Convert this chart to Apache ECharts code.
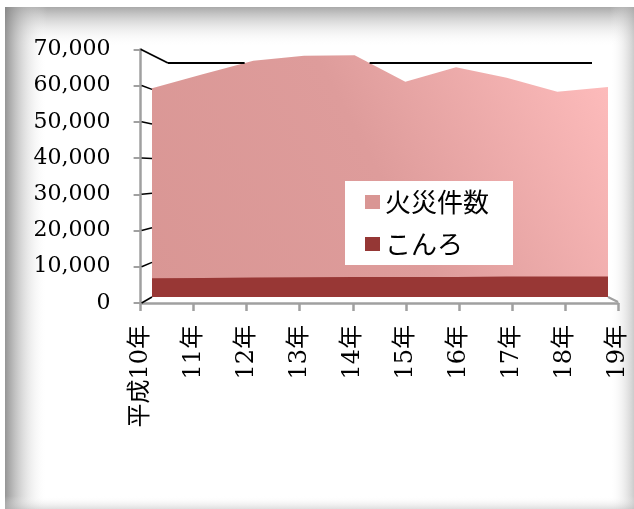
<!DOCTYPE html>
<html>
<head>
<meta charset="utf-8">
<script src="https://cdn.jsdelivr.net/npm/echarts@6/dist/echarts.min.js"></script>
<style>
html,body{margin:0;padding:0;background:#fff;}
#main{width:634px;height:509px;}
</style>
</head>
<body>
<div id="main"></div>
<script>
var years = ['平成10年','11年','12年','13年','14年','15年','16年','17年','18年','19年'];
var fires = [60300, 64400, 68300, 69700, 69900, 62200, 66400, 63400, 59300, 60700];
var konro = [5400, 5500, 5600, 5700, 5800, 5800, 5800, 5900, 5900, 5900];
var yTicks = [0, 10000, 20000, 30000, 40000, 50000, 60000, 70000];

var myChart = echarts.init(document.getElementById('main'));

function comma(v){
    return String(v).replace(/\B(?=(\d{3})+(?!\d))/g, ',');
}

// 背景のぼかし枠
var frame = [
    {type:'rect', z:-10, shape:{x:5,y:7,width:629,height:40},
        style:{fill:new echarts.graphic.LinearGradient(0,0,0,1,[{offset:0,color:'rgba(140,140,140,0.75)'},{offset:1,color:'rgba(255,255,255,0)'}])}},
    {type:'rect', z:-10, shape:{x:5,y:7,width:42,height:502},
        style:{fill:new echarts.graphic.LinearGradient(0,0,1,0,[{offset:0,color:'rgba(130,130,130,0.85)'},{offset:1,color:'rgba(255,255,255,0)'}])}},
    {type:'rect', z:-10, shape:{x:610,y:7,width:24,height:502},
        style:{fill:new echarts.graphic.LinearGradient(1,0,0,0,[{offset:0,color:'rgba(170,170,170,0.6)'},{offset:1,color:'rgba(255,255,255,0)'}])}},
    {type:'rect', z:-10, shape:{x:5,y:496,width:629,height:13},
        style:{fill:new echarts.graphic.LinearGradient(0,1,0,0,[{offset:0,color:'rgba(190,190,190,0.5)'},{offset:1,color:'rgba(255,255,255,0)'}])}}
];

var option = {
    backgroundColor:'#fff',
    animation:false,
    legend:{
        orient:'vertical',
        left:345,
        top:181,
        backgroundColor:'#fff',
        padding:[8,24,8,20],
        itemGap:16,
        itemWidth:15,
        itemHeight:14,
        textStyle:{fontFamily:'Noto Sans CJK JP',fontSize:26,lineHeight:26,color:'#000'},
        data:[
            {name:'火災件数',icon:'rect',itemStyle:{color:'#D99694'}},
            {name:'こんろ',icon:'rect',itemStyle:{color:'#953735'}}
        ]
    },
    grid:[
        {left:140.6,right:16,top:49.3,bottom:206},
        {left:152,right:26,top:54.8,bottom:212}
    ],
    xAxis:[
        {
            type:'category',gridIndex:0,data:years,boundaryGap:false,
            axisLine:{lineStyle:{color:'#a0a0a0',width:2.5}},
            axisTick:{length:8,lineStyle:{color:'#a0a0a0',width:2.5}},
            axisLabel:{rotate:90,margin:22,fontFamily:'DejaVu Serif, Noto Sans CJK JP',fontSize:24,color:'#000'}
        },
        {type:'category',gridIndex:1,data:years,boundaryGap:false,show:false}
    ],
    yAxis:[
        {
            type:'value',gridIndex:0,min:0,max:70000,interval:10000,
            splitLine:{show:false},
            axisLine:{show:true,lineStyle:{color:'#a0a0a0',width:2.5}},
            axisTick:{show:true,length:7,lineStyle:{color:'#a0a0a0',width:2}},
            axisLabel:{margin:30,fontFamily:'DejaVu Serif',fontSize:22,color:'#000',formatter:comma}
        },
        {type:'value',gridIndex:1,min:0,max:70000,show:false,splitLine:{show:false}}
    ],
    series:[
        {
            name:'火災件数',type:'line',xAxisIndex:1,yAxisIndex:1,data:fires,
            symbol:'none',lineStyle:{width:0},itemStyle:{color:'#D99694'},
            areaStyle:{opacity:1,color:new echarts.graphic.LinearGradient(0,1,1,0,[
                {offset:0,color:'#D99694'},
                {offset:0.5,color:'#DE9C9B'},
                {offset:1,color:'#FFBDBD'}
            ])}
        },
        {
            name:'こんろ',type:'line',xAxisIndex:1,yAxisIndex:1,data:konro,
            symbol:'none',lineStyle:{width:0},itemStyle:{color:'#953735'},
            areaStyle:{opacity:1,color:'#983735'}
        }
    ],
    graphic:frame
};

myChart.setOption(option);

// 3D風の側壁の線
var lines = [];
yTicks.slice(0, 7).forEach(function(v){
    var f = myChart.convertToPixel({xAxisIndex:0,yAxisIndex:0},[0,v]);
    var b = myChart.convertToPixel({xAxisIndex:1,yAxisIndex:1},[0,v]);
    lines.push({type:'line',z:100,shape:{x1:f[0]+1,y1:f[1],x2:b[0],y2:b[1]},style:{stroke:'#000',lineWidth:1.5}});
});
var topPt = myChart.convertToPixel({xAxisIndex:0,yAxisIndex:0},[0,70000]);
var wallY = 63, wallX0 = 168, wallX1 = 592;
lines.push({type:'line',z:100,shape:{x1:topPt[0],y1:topPt[1],x2:wallX0,y2:wallY},style:{stroke:'#000',lineWidth:1.8}});

// 奥の壁の上辺: エリアに隠れる部分は描かない
var pts = fires.map(function(v,i){ return myChart.convertToPixel({xAxisIndex:1,yAxisIndex:1},[i,v]); });
function areaY(x){
    for(var i=0;i<pts.length-1;i++){
        if(x>=pts[i][0] && x<=pts[i+1][0]){
            var t=(x-pts[i][0])/(pts[i+1][0]-pts[i][0]);
            return pts[i][1]+t*(pts[i+1][1]-pts[i][1]);
        }
    }
    return 999;
}
var cuts=[wallX0];
for(var i=0;i<pts.length-1;i++){
    var a=pts[i], b=pts[i+1];
    if((a[1]-wallY)*(b[1]-wallY)<0){
        var x=a[0]+(wallY-a[1])/(b[1]-a[1])*(b[0]-a[0]);
        if(x>wallX0 && x<wallX1) cuts.push(x);
    }
}
cuts.push(wallX1);
for(var k=0;k<cuts.length-1;k++){
    var mid=(cuts[k]+cuts[k+1])/2;
    if(areaY(mid)>wallY){
        lines.push({type:'line',z:100,shape:{x1:cuts[k],y1:wallY,x2:cuts[k+1],y2:wallY},style:{stroke:'#000',lineWidth:1.8}});
    }
}

var br = myChart.convertToPixel({xAxisIndex:1,yAxisIndex:1},[9,0]);
var fr = myChart.convertToPixel({xAxisIndex:0,yAxisIndex:0},[9,0]);
lines.push({type:'line',z:100,shape:{x1:br[0],y1:br[1],x2:fr[0],y2:fr[1]-1},style:{stroke:'#a0a0a0',lineWidth:2}});

myChart.setOption({graphic:frame.concat(lines)});
</script>
</body>
</html>
